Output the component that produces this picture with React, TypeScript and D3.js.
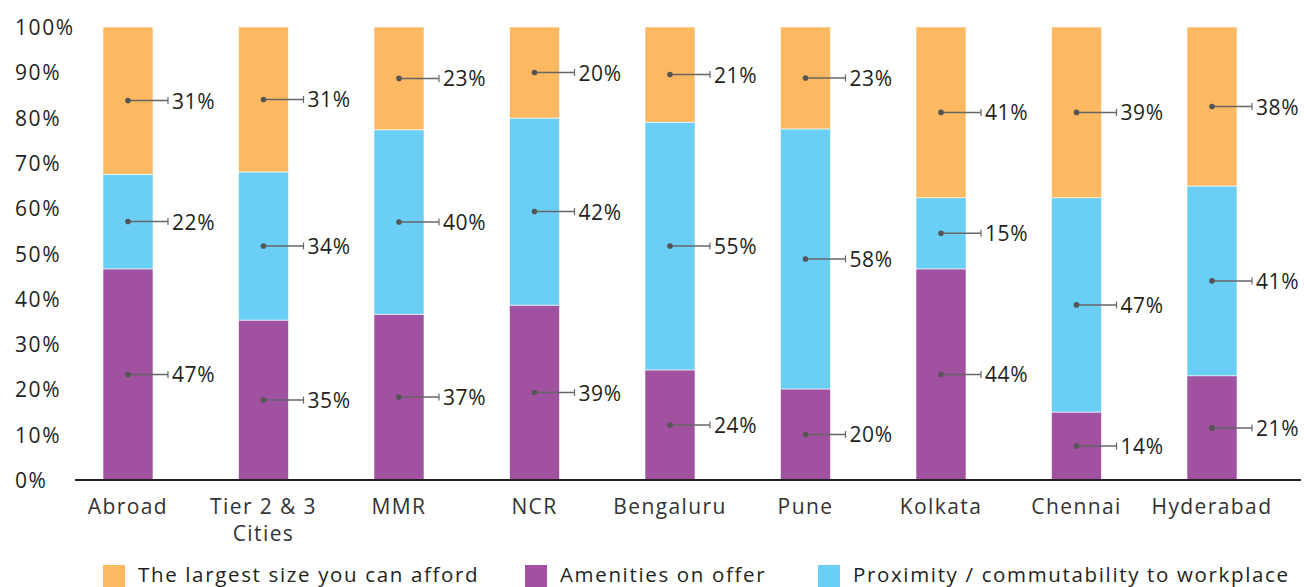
import React, { useEffect } from "react";
import * as d3 from "d3";

const categories = ["Abroad", "Tier 2 & 3|Cities", "MMR", "NCR", "Bengaluru", "Pune", "Kolkata", "Chennai", "Hyderabad"];
const seriesNames = ["Amenities on offer", "Proximity / commutability to workplace", "The largest size you can afford"];
// segment sizes as drawn (percent of bar)
const amenities = [46.6, 35.3, 36.6, 38.6, 24.3, 20.1, 46.6, 15.0, 23.0];
const proximity = [20.9, 32.7, 40.7, 41.3, 54.7, 57.4, 15.7, 47.3, 41.9];
const largest = [32.5, 32.0, 22.7, 20.1, 21.0, 22.5, 37.7, 37.7, 35.1];
// labels as printed
const amenitiesLabels = [47, 35, 37, 39, 24, 20, 44, 14, 21];
const proximityLabels = [22, 34, 40, 42, 55, 58, 15, 47, 41];
const largestLabels = [31, 31, 23, 20, 21, 23, 41, 39, 38];
const yTicks = [0, 10, 20, 30, 40, 50, 60, 70, 80, 90, 100];

const colors = ["#A0519F", "#6BCEF5", "#FCB962"];
const legendOrder = [2, 0, 1];

const W = 1304, H = 587;
const FONT = "'Open Sans', sans-serif";

export default function App() {
  useEffect(() => {
    document.body.style.margin = "0";
  }, []);

  const y = d3.scaleLinear().domain([0, 100]).range([480, 27]);
  const x = d3.scaleBand<string>().domain(categories).range([35.25, 1304.75]).paddingInner(0.631).paddingOuter(0.5);
  const bw = x.bandwidth();

  const rows = categories.map((c, i) => ({
    cat: c,
    s0: amenities[i], s1: proximity[i], s2: largest[i],
  }));
  const stack = d3.stack<any>().keys(["s0", "s1", "s2"]);
  const stacked = stack(rows);
  const labelSets = [amenitiesLabels, proximityLabels, largestLabels];

  return (
    <svg width={W} height={H} style={{ position: "absolute", left: 0, top: 0, background: "#fff" }} fontFamily={FONT}>
      {yTicks.map((t) => (
        <text key={t} x={15} y={y(t)} dominantBaseline="central" fontSize={21} fill="#231f20" letterSpacing={1.6}>
          {t}%
        </text>
      ))}
      {stacked.map((layer, si) =>
        layer.map((d, i) => (
          <rect key={si + "-" + i} x={x(categories[i])} y={y(d[1])} width={bw} height={y(d[0]) - y(d[1])}
            fill={colors[si]} stroke="#fff" strokeWidth={0.6} />
        ))
      )}
      <line x1={75} x2={1301} y1={480} y2={480} stroke="#231f20" strokeWidth={2.2} />
      {stacked.map((layer, si) =>
        layer.map((d, i) => {
          const cx = (x(categories[i]) as number) + bw / 2;
          const cy = (y(d[0]) + y(d[1])) / 2;
          return (
            <g key={"l" + si + "-" + i}>
              <line x1={cx} x2={cx + 40} y1={cy} y2={cy} stroke="#666" strokeWidth={1.5} />
              <line x1={cx + 40} x2={cx + 40} y1={cy - 3.5} y2={cy + 3.5} stroke="#666" strokeWidth={1.2} />
              <circle cx={cx} cy={cy} r={2.8} fill="#555" />
              <text x={cx + 44} y={cy} dominantBaseline="central" fontSize={21} fill="#231f20" letterSpacing={0.6}>
                {labelSets[si][i]}%
              </text>
            </g>
          );
        })
      )}
      {categories.map((c) => {
        const cx = (x(c) as number) + bw / 2;
        const lines = c.split("|");
        return (
          <text key={c} x={cx} y={506} textAnchor="middle" fontSize={21} fill="#333" letterSpacing={1.4}>
            {lines.map((ln, k) => (
              <tspan key={k} x={cx} y={506 + k * 27} dominantBaseline="central">{ln}</tspan>
            ))}
          </text>
        );
      })}
      {legendOrder.map((si, k) => {
        const lx = [103, 525, 818][k];
        return (
          <g key={"lg" + si}>
            <rect x={lx} y={565} width={22} height={22} fill={colors[si]} />
            <text x={lx + 35} y={574} dominantBaseline="central" fontSize={20.5} fill="#231f20" letterSpacing={1.65}>
              {seriesNames[si]}
            </text>
          </g>
        );
      })}
    </svg>
  );
}
